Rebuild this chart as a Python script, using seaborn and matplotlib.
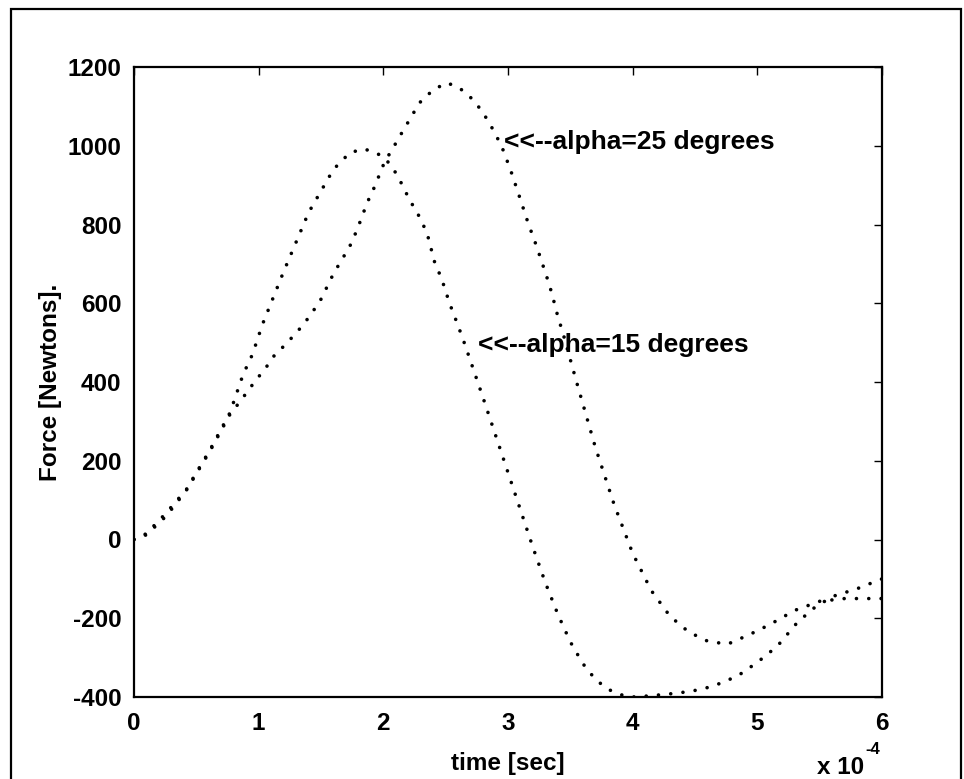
import numpy as np
import pandas as pd
import matplotlib
matplotlib.use("Agg")
import matplotlib.pyplot as plt
from matplotlib.patches import Rectangle
import seaborn as sns

# ---- data (time in units of 1e-4 s, force in N) ----
t_alpha15 = [0, 0.1, 0.26, 0.42, 0.61, 0.77, 0.875, 0.95, 1.03, 1.2, 1.4, 1.6, 1.73, 1.84,
             1.92, 2.0, 2.07, 2.13, 2.21, 2.28, 2.35, 2.41, 2.47, 2.53, 2.59, 2.64, 2.69,
             2.8, 2.9, 3.0, 3.1, 3.2, 3.3, 3.4, 3.5, 3.6, 3.7, 3.8, 3.9, 4.0, 4.14, 4.3,
             4.46, 4.58, 4.68, 4.84, 5.0, 5.16, 5.32, 5.45, 5.6, 5.8, 6.0]
f_alpha15 = [0, 15, 68, 127, 228, 322, 419, 470, 546, 680, 830, 940, 982, 992,
             985, 972, 947, 914, 863, 825, 779, 706, 660, 601, 551, 508, 462,
             360, 265, 170, 75, -20, -110, -190, -260, -315, -355, -380, -394, -400, -397, -392,
             -386, -378, -368, -347, -312, -271, -211, -175, -145, -125, -100]

t_alpha25 = [0, 0.1, 0.26, 0.42, 0.61, 0.77, 0.85, 0.95, 1.066, 1.11, 1.23, 1.36, 1.49, 1.6,
             1.73, 1.79, 1.87, 1.93, 2.01, 2.07, 2.13, 2.21, 2.29, 2.40, 2.51, 2.61, 2.72,
             2.80, 2.88, 2.95, 3.02, 3.10, 3.16, 3.23, 3.31, 3.35, 3.40, 3.44, 3.55, 3.7,
             3.85, 4.0, 4.15, 4.3, 4.45, 4.6, 4.76, 4.94, 5.10, 5.3, 5.5, 5.7, 5.9, 6.0]
f_alpha25 = [0, 12, 60, 125, 225, 318, 350, 393, 440, 462, 500, 546, 604, 675,
             744, 787, 855, 896, 959, 990, 1023, 1066, 1109, 1142, 1160, 1147, 1117,
             1084, 1041, 998, 939, 863, 805, 744, 668, 627, 566, 525, 400, 235,
             90, -35, -130, -195, -235, -258, -266, -241, -216, -180, -157, -150, -150, -150]

x_ticks = [0, 1, 2, 3, 4, 5, 6]
y_ticks = [-400, -200, 0, 200, 400, 600, 800, 1000, 1200]
label_25 = "<<--alpha=25 degrees"
label_15 = "<<--alpha=15 degrees"

sns.set_style("white")
plt.rcParams['font.family'] = ['Liberation Sans', 'DejaVu Sans']
plt.rcParams['text.color'] = 'black'
plt.rcParams['axes.labelcolor'] = 'black'

fig = plt.figure(figsize=(9.64, 7.79), dpi=100)
ax = fig.add_axes([134/964, 1 - 697/779, (882 - 134)/964, (697 - 67)/779])

df15 = pd.DataFrame({"t": t_alpha15, "F": f_alpha15})
df25 = pd.DataFrame({"t": t_alpha25, "F": f_alpha25})
dot = (0, (0.01, 3.4))
sns.lineplot(data=df15, x="t", y="F", ax=ax, color="black", linewidth=2.6,
             linestyle=dot, dash_capstyle="round", estimator=None, sort=False)
sns.lineplot(data=df25, x="t", y="F", ax=ax, color="black", linewidth=2.6,
             linestyle=dot, dash_capstyle="round", estimator=None, sort=False)

ax.set_xlim(0, 6)
ax.set_ylim(-400, 1200)
ax.set_xticks(x_ticks)
ax.set_yticks(y_ticks)
ax.set_xticklabels([str(v) for v in x_ticks], fontweight="bold")
ax.set_yticklabels([str(v) for v in y_ticks], fontweight="bold")
ax.tick_params(axis="both", direction="in", top=True, right=True, length=6, width=1,
               labelsize=17.5, colors="black")
ax.tick_params(axis="x", pad=11)
ax.tick_params(axis="y", pad=9)
for s in ax.spines.values():
    s.set_linewidth(1.6)
    s.set_color("black")

ax.set_xlabel("time [sec]", fontsize=17.5, fontweight="bold", labelpad=12)
ax.set_ylabel("Force [Newtons].", fontsize=17.5, fontweight="bold", labelpad=4)

ax.text(2.97, 1010, label_25, fontsize=19, fontweight="bold", va="center", ha="left")
ax.text(2.76, 495, label_15, fontsize=19, fontweight="bold", va="center", ha="left")

fig.text(817/964, 1 - 768/779, "x 10", fontsize=17.5, fontweight="bold",
         va="center", ha="left")
fig.text(865/964, 1 - 750/779, "-4", fontsize=12, fontweight="bold",
         va="center", ha="left")

# outer frame
fig.patches.append(Rectangle((11/964, -0.05), (961 - 11)/964, 1.05 - 9/779,
                             transform=fig.transFigure, fill=False,
                             edgecolor="black", linewidth=1.6))

fig.savefig("out.png", dpi=100)
